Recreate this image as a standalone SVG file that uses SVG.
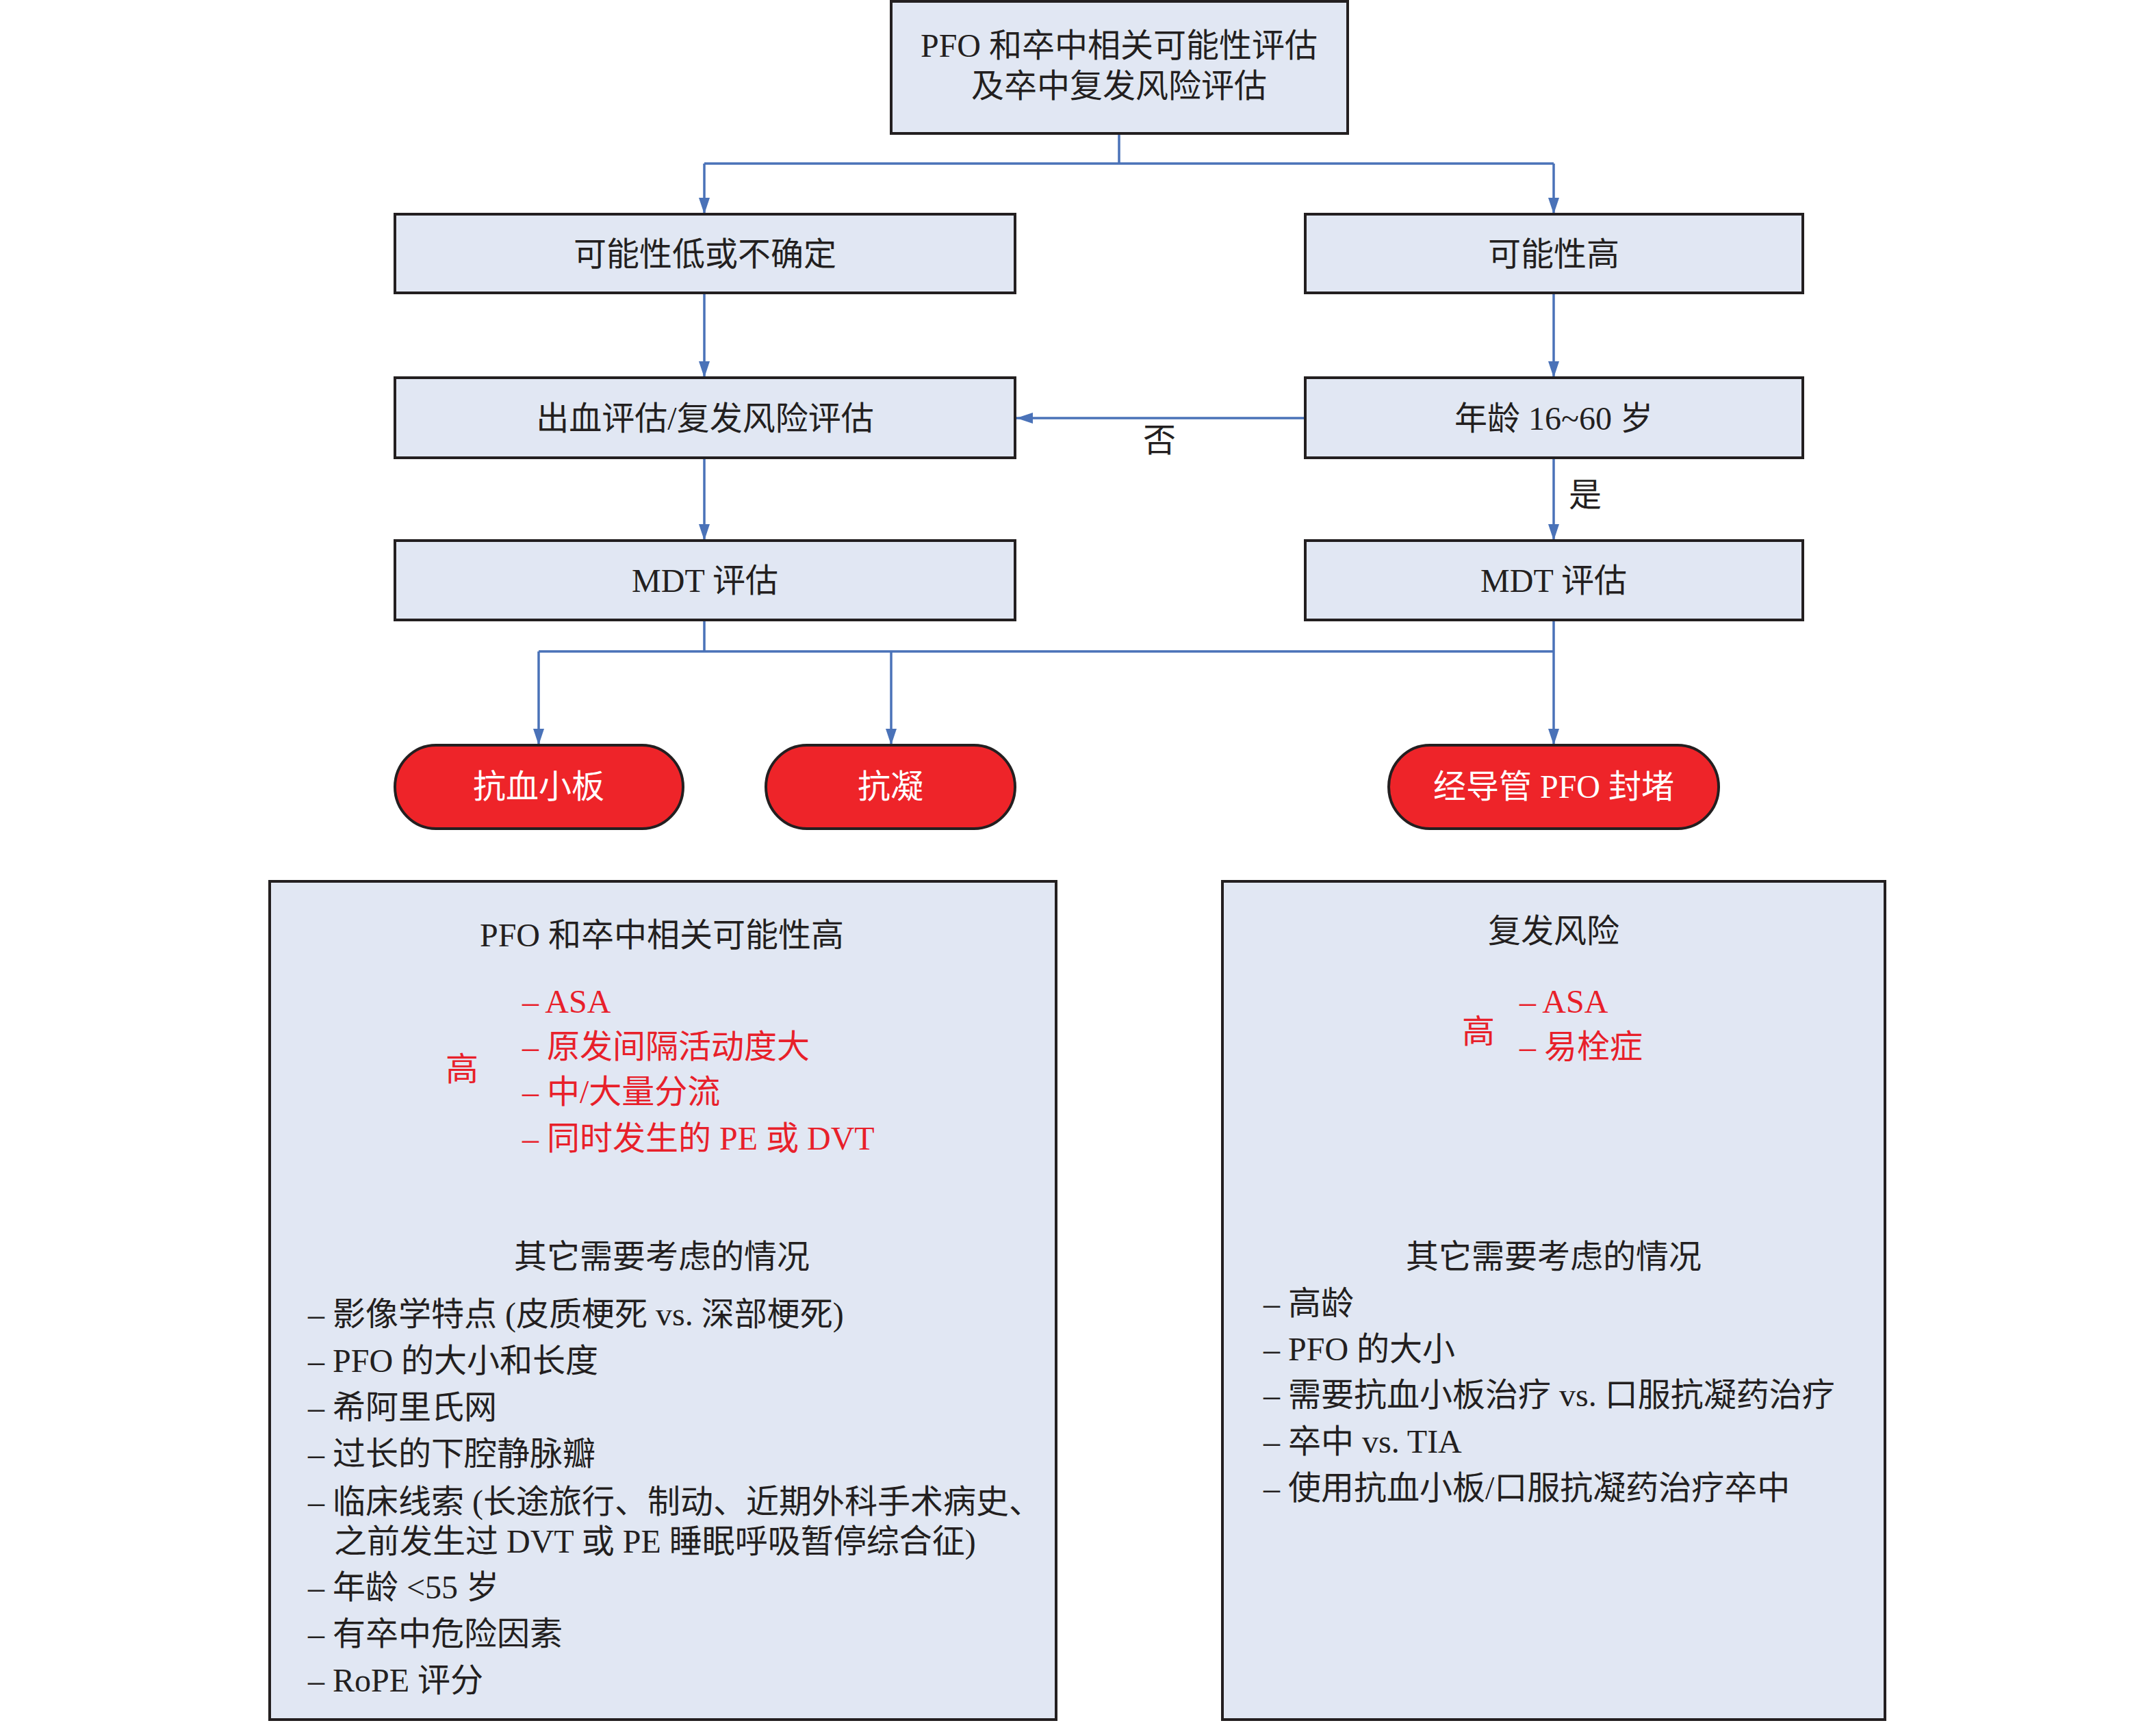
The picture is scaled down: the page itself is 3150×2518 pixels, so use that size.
<svg xmlns="http://www.w3.org/2000/svg" width="3150" height="2518" viewBox="0 0 3150 2518">
<defs>
<marker id="arr" viewBox="0 0 24 16" refX="24" refY="8" markerWidth="24" markerHeight="16" markerUnits="userSpaceOnUse" orient="auto">
<path d="M0,0 L24,8 L0,16 z" fill="#4A72B8"/>
</marker>
<style>
.box{fill:#E1E7F3;stroke:#231F20;stroke-width:4}
.pill{fill:#EE2429;stroke:#231F20;stroke-width:4}
.t{font-family:"Liberation Serif","Noto Sans CJK SC",serif;font-size:48px;fill:#231F20}
.c{text-anchor:middle}
.w{fill:#FFFFFF}
.r{fill:#E8202A}
.ln{stroke:#4A72B8;stroke-width:3.5;fill:none}
.a{marker-end:url(#arr)}
</style>
</defs>
<rect width="3150" height="2518" fill="#FFFFFF"/>
<g id="connectors">
<path class="ln" d="M1635,195 V239 M1029,239 H2270"/>
<path class="ln a" d="M1029,239 V313"/>
<path class="ln a" d="M2270,239 V313"/>
<path class="ln a" d="M1029,428 V552"/>
<path class="ln a" d="M1029,669 V790"/>
<path class="ln a" d="M2270,428 V552"/>
<path class="ln a" d="M2270,669 V790"/>
<path class="ln a" d="M1907,611 H1485"/>
<path class="ln" d="M1029,906 V952 M2270,906 V952 M787,952 H2270"/>
<path class="ln a" d="M787,952 V1089"/>
<path class="ln a" d="M1302,952 V1089"/>
<path class="ln a" d="M2270,952 V1089"/>
<text class="t c" x="1694" y="660">否</text>
<text class="t c" x="2316" y="740">是</text>
</g>
<g id="n_top">
<rect class="box" x="1302" y="2" width="667" height="193"/>
<text class="t c" x="1635" y="83">PFO 和卒中相关可能性评估</text>
<text class="t c" x="1635" y="142">及卒中复发风险评估</text>
</g>
<g id="n_low">
<rect class="box" x="577" y="313" width="906" height="115"/>
<text class="t c" x="1030" y="388">可能性低或不确定</text>
</g>
<g id="n_high">
<rect class="box" x="1907" y="313" width="727" height="115"/>
<text class="t c" x="2270" y="388">可能性高</text>
</g>
<g id="n_bleed">
<rect class="box" x="577" y="552" width="906" height="117"/>
<text class="t c" x="1030" y="628">出血评估/复发风险评估</text>
</g>
<g id="n_age">
<rect class="box" x="1907" y="552" width="727" height="117"/>
<text class="t c" x="2270" y="628">年龄 16~60 岁</text>
</g>
<g id="n_mdt_l">
<rect class="box" x="577" y="790" width="906" height="116"/>
<text class="t c" x="1030" y="865">MDT 评估</text>
</g>
<g id="n_mdt_r">
<rect class="box" x="1907" y="790" width="727" height="116"/>
<text class="t c" x="2270" y="865">MDT 评估</text>
</g>
<g id="n_antiplatelet">
<rect class="pill" x="577" y="1089" width="421" height="122" rx="60" ry="61"/>
<text class="t c w" x="787" y="1166">抗血小板</text>
</g>
<g id="n_anticoag">
<rect class="pill" x="1119" y="1089" width="364" height="122" rx="60" ry="61"/>
<text class="t c w" x="1301" y="1166">抗凝</text>
</g>
<g id="n_closure">
<rect class="pill" x="2029" y="1089" width="482" height="122" rx="60" ry="61"/>
<text class="t c w" x="2270" y="1166">经导管 PFO 封堵</text>
</g>
<g id="n_panel_left">
<rect class="box" x="394" y="1288" width="1149" height="1225"/>
<text class="t c" x="967" y="1383">PFO 和卒中相关可能性高</text>
<text class="t c r" x="675" y="1579">高</text>
<text class="t r" x="763" y="1480">– ASA</text>
<text class="t r" x="763" y="1546">– 原发间隔活动度大</text>
<text class="t r" x="763" y="1612">– 中/大量分流</text>
<text class="t r" x="763" y="1680">– 同时发生的 PE 或 DVT</text>
<text class="t c" x="967" y="1853">其它需要考虑的情况</text>
<text class="t" x="450" y="1937">– 影像学特点 (皮质梗死 vs. 深部梗死)</text>
<text class="t" x="450" y="2005">– PFO 的大小和长度</text>
<text class="t" x="450" y="2073">– 希阿里氏网</text>
<text class="t" x="450" y="2141">– 过长的下腔静脉瓣</text>
<text class="t" x="450" y="2211">– 临床线索 (长途旅行、制动、近期外科手术病史、</text>
<text class="t" x="488" y="2269">之前发生过 DVT 或 PE 睡眠呼吸暂停综合征)</text>
<text class="t" x="450" y="2336">– 年龄 &lt;55 岁</text>
<text class="t" x="450" y="2404">– 有卒中危险因素</text>
<text class="t" x="450" y="2472">– RoPE 评分</text>
</g>
<g id="n_panel_right">
<rect class="box" x="1786" y="1288" width="968" height="1225"/>
<text class="t c" x="2270" y="1377">复发风险</text>
<text class="t c r" x="2160" y="1524">高</text>
<text class="t r" x="2220" y="1480">– ASA</text>
<text class="t r" x="2220" y="1546">– 易栓症</text>
<text class="t c" x="2270" y="1853">其它需要考虑的情况</text>
<text class="t" x="1846" y="1921">– 高龄</text>
<text class="t" x="1846" y="1988">– PFO 的大小</text>
<text class="t" x="1846" y="2055">– 需要抗血小板治疗 vs. 口服抗凝药治疗</text>
<text class="t" x="1846" y="2123">– 卒中 vs. TIA</text>
<text class="t" x="1846" y="2191">– 使用抗血小板/口服抗凝药治疗卒中</text>
</g>
</svg>
